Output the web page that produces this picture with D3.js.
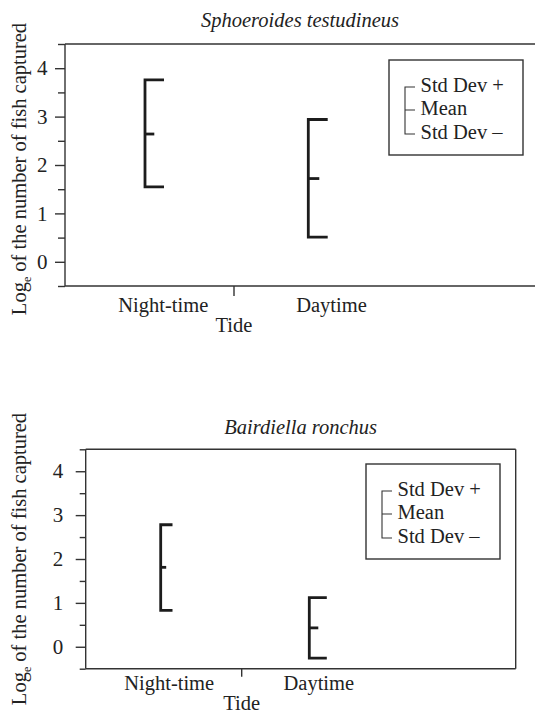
<!DOCTYPE html>
<html><head><meta charset="utf-8">
<script src="https://cdn.jsdelivr.net/npm/d3@7"></script>
<style>
html,body{margin:0;padding:0;background:#fff;}
svg{display:block;}
svg text{font-family:"Liberation Serif","DejaVu Serif","Times New Roman",Times,serif;fill:#222;}
</style></head>
<body>
<script>
// ---- data ----
const categories = ["Night-time", "Daytime"];
const panelTitles = ["Sphoeroides testudineus", "Bairdiella ronchus"];
const sphoeroidesSdPlus = [3.76, 2.94];
const sphoeroidesMean = [2.64, 1.72];
const sphoeroidesSdMinus = [1.55, 0.51];
const bairdiellaSdPlus = [2.78, 1.12];
const bairdiellaMean = [1.81, 0.43];
const bairdiellaSdMinus = [0.83, -0.26];
const yTickValues = [0, 1, 2, 3, 4];
const yMinorTickValues = [-0.5, 0.5, 1.5, 2.5, 3.5, 4.5];
const yDomain = [-0.5, 4.5];
const legendLabels = ["Std Dev +", "Mean", "Std Dev \u2013"];
const xAxisTitle = "Tide";

const FONT = '"Liberation Serif","DejaVu Serif","Times New Roman",Times,serif';

// ---- layout (per panel) ----
const panels = [
  {title: panelTitles[0], plus: sphoeroidesSdPlus, mean: sphoeroidesMean, minus: sphoeroidesSdMinus,
   left: 65, right: 537, top: 44, bottom: 286, rightBorder: false,
   barRange: [145, 308.3], labelRange: [163.3, 331.5], divider: 234,
   capLen: [19, 19.4], meanLen: [9.3, 11], majorLen: 10, minorLen: 7, labelPad: 7.5,
   titleY: 26.7, catDy: 25.7, tideDy: 45.7, tickLen: 10,
   legend: {x: 389, y: 60}, yTitleCy: 169},
  {title: panelTitles[1], plus: bairdiellaSdPlus, mean: bairdiellaMean, minus: bairdiellaSdMinus,
   left: 85.7, right: 515.7, top: 449.3, bottom: 668.7, rightBorder: true,
   barRange: [160.7, 309.3], labelRange: [169.2, 318.8], divider: 241.7,
   capLen: [11.8, 17.5], meanLen: [5.5, 9], majorLen: 10, minorLen: 6, labelPad: 12.5,
   titleY: 434, catDy: 21.5, tideDy: 41.5, tickLen: 8,
   legend: {x: 366, y: 464}, yTitleCy: 559}
];

const W = 535, H = 714;
const svg = d3.select("body").append("svg").attr("width", W).attr("height", H)
  .attr("font-family", FONT);
const ink = "#222";

panels.forEach(p => {
  const g = svg.append("g");
  const y = d3.scaleLinear().domain(yDomain).range([p.bottom, p.top]);
  const xBar = d3.scalePoint().domain(categories).range(p.barRange);
  const xLab = d3.scalePoint().domain(categories).range(p.labelRange);

  // frame
  const frame = g.append("g").attr("stroke", "#333").attr("stroke-width", 1.4).attr("fill", "none");
  frame.append("line").attr("x1", p.left).attr("x2", p.left).attr("y1", p.top).attr("y2", p.bottom);
  frame.append("line").attr("x1", p.left).attr("x2", p.right).attr("y1", p.top).attr("y2", p.top);
  frame.append("line").attr("x1", p.left).attr("x2", p.right).attr("y1", p.bottom).attr("y2", p.bottom);
  if (p.rightBorder) frame.append("line").attr("x1", p.right).attr("x2", p.right).attr("y1", p.top).attr("y2", p.bottom);

  // y axis major ticks with labels
  const yAx = g.append("g").attr("transform", `translate(${p.left},0)`)
    .call(d3.axisLeft(y).tickValues(yTickValues).tickSize(p.majorLen).tickSizeOuter(0).tickPadding(p.labelPad).tickFormat(d3.format("d")));
  yAx.attr("font-family", FONT).attr("font-size", 21);
  yAx.select(".domain").remove();
  yAx.selectAll(".tick line").attr("stroke", "#333").attr("stroke-width", 1.4);
  yAx.selectAll(".tick text").attr("font-size", 21).attr("fill", ink).attr("font-family", FONT);
  // minor ticks
  const yMin = g.append("g").attr("transform", `translate(${p.left},0)`)
    .call(d3.axisLeft(y).tickValues(yMinorTickValues).tickSize(p.minorLen).tickSizeOuter(0).tickFormat(""));
  yMin.select(".domain").remove();
  yMin.selectAll(".tick line").attr("stroke", "#333").attr("stroke-width", 1.4);

  // x divider tick
  g.append("line").attr("x1", p.divider).attr("x2", p.divider)
    .attr("y1", p.bottom).attr("y2", p.bottom + p.tickLen)
    .attr("stroke", "#333").attr("stroke-width", 1.4);

  // category labels
  g.selectAll(".cat").data(categories).join("text")
    .attr("x", d => xLab(d)).attr("y", p.bottom + p.catDy).attr("font-family", FONT)
    .attr("text-anchor", "middle").attr("font-size", 20.5).text(d => d);
  g.append("text").attr("x", p.divider).attr("y", p.bottom + p.tideDy).attr("font-family", FONT)
    .attr("text-anchor", "middle").attr("font-size", 20.5).text(xAxisTitle);

  // title
  g.append("text").attr("x", (p.left + (p.rightBorder ? p.right : 535)) / 2).attr("y", p.titleY)
    .attr("font-family", FONT)
    .attr("text-anchor", "middle").attr("font-size", 20.5).attr("font-style", "italic").text(p.title);

  // y axis title
  const yt = g.append("text").attr("transform", `translate(26,${p.yTitleCy}) rotate(-90)`)
    .attr("font-family", FONT)
    .attr("text-anchor", "middle").attr("font-size", 20.5);
  yt.append("tspan").text("Log");
  yt.append("tspan").attr("font-size", 12).attr("dy", 5).text("e");
  yt.append("tspan").attr("dy", -5).text(" of the number of fish captured");

  // error bars
  const bars = g.selectAll(".bar").data(categories).join("g").attr("class", "bar")
    .attr("stroke", "#1c1c1c").attr("stroke-width", 2.8).attr("fill", "none");
  bars.append("path").attr("d", (d, i) => {
    const x0 = xBar(d);
    return `M${x0 + p.capLen[i]},${y(p.plus[i])}H${x0}V${y(p.minus[i])}H${x0 + p.capLen[i]}`;
  }).attr("stroke-linejoin", "miter");
  bars.append("line")
    .attr("x1", d => xBar(d)).attr("x2", (d, i) => xBar(d) + p.meanLen[i])
    .attr("y1", (d, i) => y(p.mean[i])).attr("y2", (d, i) => y(p.mean[i]));

  // legend
  const lg = g.append("g").attr("transform", `translate(${p.legend.x},${p.legend.y})`);
  lg.append("rect").attr("width", 134).attr("height", 95).attr("fill", "#fff")
    .attr("stroke", "#333").attr("stroke-width", 1.4);
  const lineYs = [27, 50, 74];
  lg.append("path").attr("d", `M26,${lineYs[0]}H16V${lineYs[2]}H26M16,${lineYs[1]}H26`)
    .attr("stroke", "#333").attr("stroke-width", 1.1).attr("fill", "none");
  lg.selectAll(".lt").data(legendLabels).join("text")
    .attr("x", 31.5).attr("y", (d, i) => lineYs[i] + 4.5).attr("font-family", FONT)
    .attr("font-size", 20.5).text(d => d);
});
</script>
</body></html>
